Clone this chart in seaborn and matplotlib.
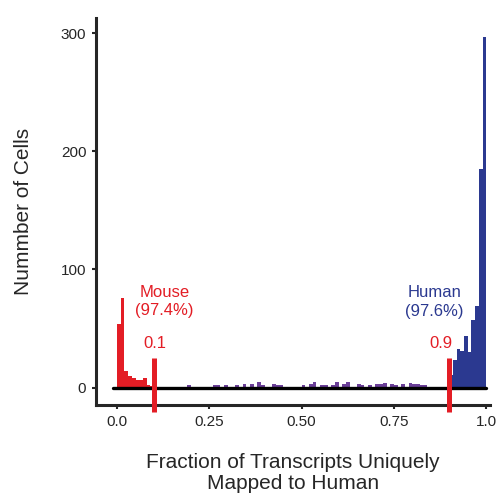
import numpy as np
import pandas as pd
import seaborn as sns
import matplotlib.pyplot as plt

# counts per 0.01 bin
mouse_counts = [54, 76, 14, 10, 8, 6, 6, 8, 2, 1]  # 0.00 - 0.09
mixed_counts = [0, 0, 0, 0, 0, 0, 0, 0, 0, 2,      # 0.10 - 0.19
                0, 0, 0, 0, 0, 0, 2, 2, 0, 2,      # 0.20 - 0.29
                0, 0, 2, 0, 3, 0, 3, 0, 5, 2,      # 0.30 - 0.39
                0, 0, 3, 2, 2, 0, 0, 0, 0, 0,      # 0.40 - 0.49
                2, 0, 3, 5, 0, 2, 2, 0, 2, 5,      # 0.50 - 0.59
                0, 3, 5, 0, 0, 3, 2, 0, 2, 0,      # 0.60 - 0.69
                3, 3, 4, 0, 3, 2, 0, 3, 0, 4,      # 0.70 - 0.79
                3, 3, 2, 2, 0, 0, 0, 0, 0, 0]      # 0.80 - 0.89
human_counts = [11, 23, 33, 31, 44, 30, 57, 69, 185, 297]  # 0.90 - 0.99

thresholds = [0.1, 0.9]
x_ticks = [0.0, 0.25, 0.50, 0.75, 1.0]
x_tick_labels = ["0.0", "0.25", "0.50", "0.75", "1.0"]
y_ticks = [0, 100, 200, 300]

RED = "#E31D25"
BLUE = "#2B3990"
PURPLE = "#6B3F98"


def build_table():
    counts = mouse_counts + mixed_counts + human_counts
    groups = (["Mouse"] * len(mouse_counts) + ["Mixed"] * len(mixed_counts)
              + ["Human"] * len(human_counts))
    centers = np.arange(len(counts)) * 0.01 + 0.005
    return pd.DataFrame({"fraction": centers, "count": counts, "species": groups})


def plot_hist(df):
    sns.set_style("ticks")
    plt.rcParams['font.family'] = ['Liberation Sans', 'DejaVu Sans']

    fig = plt.figure(figsize=(5.03, 4.96), dpi=100)
    ax = fig.add_axes([0.191, 0.183, 0.783, 0.781])

    sns.histplot(data=df, x="fraction", weights="count", hue="species",
                 hue_order=["Mouse", "Mixed", "Human"],
                 palette={"Mouse": RED, "Mixed": PURPLE, "Human": BLUE},
                 binwidth=0.01, binrange=(0, 1), alpha=1, linewidth=0,
                 legend=False, ax=ax)

    # zero line across the histogram
    ax.plot([-0.01, 1.0], [0, 0], color="black", lw=2.4, zorder=3)

    # threshold markers
    for t in thresholds:
        ax.plot([t, t], [25, -21], color=RED, lw=3.6, clip_on=False, zorder=4,
                solid_capstyle="butt")
    ax.text(0.102, 37, "0.1", color=RED, ha="center", va="center", fontsize=12)
    ax.text(0.877, 37, "0.9", color=RED, ha="center", va="center", fontsize=12)
    ax.text(0.129, 80.5, "Mouse", color=RED, ha="center", va="center", fontsize=12)
    ax.text(0.129, 65, "(97.4%)", color=RED, ha="center", va="center", fontsize=12)
    ax.text(0.86, 80.5, "Human", color=BLUE, ha="center", va="center", fontsize=12)
    ax.text(0.858, 64, "(97.6%)", color=BLUE, ha="center", va="center", fontsize=12)

    ax.set_xlim(-0.057, 1.01)
    ax.set_ylim(-15, 313)
    ax.set_xticks(x_ticks)
    ax.set_xticklabels(x_tick_labels)
    ax.set_yticks(y_ticks)
    ax.tick_params(direction="out", length=3, width=1.5, labelsize=11, pad=4)

    ax.set_xlabel("Fraction of Transcripts Uniquely\nMapped to Human", fontsize=15,
                  labelpad=17, linespacing=1.15)
    ax.set_ylabel("Nummber of Cells", fontsize=15, labelpad=20)

    sns.despine(ax=ax)
    for side in ["left", "bottom"]:
        ax.spines[side].set_linewidth(2.2)

    fig.savefig("out.png", dpi=100)


def main():
    df = build_table()
    plot_hist(df)


if __name__ == "__main__":
    main()
